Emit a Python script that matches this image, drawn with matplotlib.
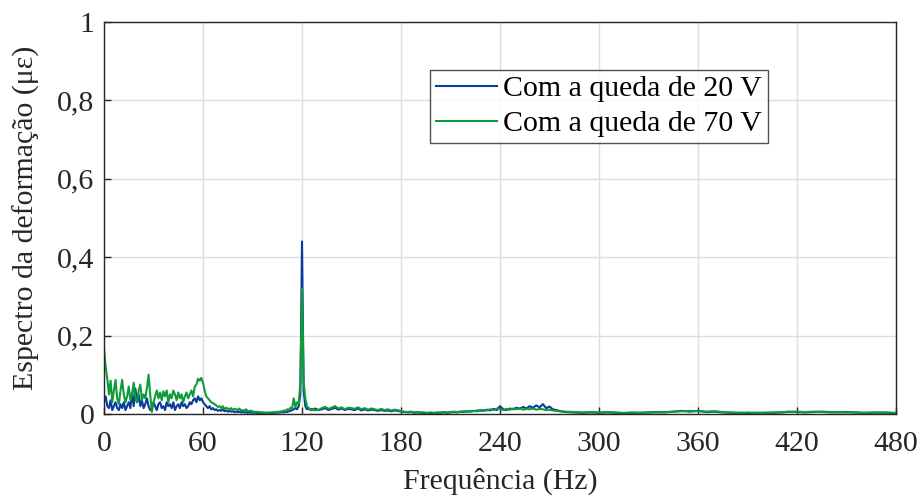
import numpy as np
import matplotlib.pyplot as plt

plt.rcParams['font.family'] = ['Liberation Serif', 'DejaVu Serif']

# frequency axis (Hz): 1 Hz steps up to 130, then 2 Hz to 280, then 5 Hz to 480
freq_low = np.arange(0, 131, 1)
freq_mid = np.arange(132, 281, 2)
freq_high = np.arange(285, 481, 5)

# strain spectrum with 20 V drop (micro-strain)
v20_low = [
    0.03, 0.045, 0.02, 0.015, 0.035, 0.01, 0.02, 0.03, 0.015, 0.01,
    0.025, 0.015, 0.03, 0.01, 0.02, 0.03, 0.015, 0.055, 0.02, 0.065,
    0.03, 0.05, 0.02, 0.035, 0.015, 0.025, 0.04, 0.02, 0.01, 0.015,
    0.03, 0.02, 0.01, 0.025, 0.03, 0.015, 0.02, 0.01, 0.03, 0.02,
    0.025, 0.015, 0.03, 0.01, 0.02, 0.025, 0.015, 0.03, 0.02, 0.025,
    0.015, 0.02, 0.03, 0.025, 0.035, 0.04, 0.03, 0.045, 0.035, 0.04,
    0.03, 0.025, 0.02, 0.015, 0.02, 0.012, 0.015, 0.01, 0.012, 0.008,
    0.01, 0.008, 0.012, 0.007, 0.009, 0.006, 0.008, 0.006, 0.007, 0.005,
    0.006, 0.005, 0.006, 0.004, 0.005, 0.004, 0.005, 0.003, 0.004, 0.004,
    0.003, 0.004, 0.003, 0.003, 0.002, 0.003, 0.003, 0.002, 0.003, 0.002,
    0.003, 0.003, 0.002, 0.003, 0.004, 0.003, 0.004, 0.004, 0.005, 0.004,
    0.006, 0.005, 0.007, 0.008, 0.01, 0.012, 0.015, 0.012, 0.02, 0.05,
    0.44, 0.06, 0.02, 0.012, 0.015, 0.01, 0.013, 0.011, 0.014, 0.012, 0.01,
]
v20_mid = [
    0.012, 0.015, 0.01, 0.013, 0.016, 0.011, 0.014, 0.01, 0.013, 0.012,
    0.01, 0.014, 0.009, 0.012, 0.009, 0.011, 0.01, 0.008, 0.01, 0.008,
    0.009, 0.007, 0.009, 0.008, 0.006, 0.005, 0.004, 0.005, 0.003, 0.004,
    0.003, 0.003, 0.002, 0.003, 0.002, 0.003, 0.003, 0.004, 0.003, 0.004,
    0.005, 0.004, 0.006, 0.005, 0.007, 0.006, 0.008, 0.007, 0.01, 0.008,
    0.011, 0.009, 0.013, 0.01, 0.02, 0.012, 0.01, 0.014, 0.012, 0.016,
    0.013, 0.018, 0.014, 0.02, 0.016, 0.022, 0.017, 0.025, 0.015, 0.019,
    0.012, 0.01, 0.008, 0.006, 0.005,
]
v20_high = [
    0.004, 0.003, 0.004, 0.003, 0.004, 0.003, 0.002, 0.003, 0.003, 0.004,
    0.005, 0.004, 0.006, 0.008, 0.006, 0.008, 0.005, 0.006, 0.004, 0.003,
    0.003, 0.002, 0.003, 0.003, 0.003, 0.004, 0.006, 0.005, 0.004, 0.005,
    0.006, 0.005, 0.004, 0.005, 0.004, 0.003, 0.003, 0.004, 0.003, 0.002,
]

# strain spectrum with 70 V drop (micro-strain)
v70_low = [
    0.168, 0.12, 0.09, 0.05, 0.085, 0.03, 0.06, 0.087, 0.04, 0.025,
    0.06, 0.087, 0.05, 0.03, 0.045, 0.07, 0.035, 0.05, 0.08, 0.04,
    0.03, 0.06, 0.075, 0.035, 0.05, 0.04, 0.065, 0.1, 0.05, 0.005,
    0.03, 0.045, 0.06, 0.04, 0.055, 0.035, 0.058, 0.045, 0.06, 0.03,
    0.05, 0.04, 0.06, 0.05, 0.035, 0.055, 0.04, 0.05, 0.03, 0.045,
    0.055, 0.04, 0.05, 0.06, 0.045, 0.07, 0.075, 0.09, 0.085, 0.092,
    0.08, 0.06, 0.045, 0.04, 0.035, 0.03, 0.028, 0.025, 0.022, 0.018,
    0.02, 0.015, 0.02, 0.012, 0.016, 0.014, 0.012, 0.015, 0.01, 0.013,
    0.012, 0.01, 0.014, 0.009, 0.01, 0.008, 0.012, 0.008, 0.007, 0.009,
    0.006, 0.006, 0.005, 0.006, 0.004, 0.005, 0.004, 0.004, 0.003, 0.004,
    0.003, 0.004, 0.004, 0.005, 0.004, 0.006, 0.005, 0.007, 0.006, 0.009,
    0.008, 0.012, 0.01, 0.016, 0.014, 0.04, 0.018, 0.03, 0.025, 0.08,
    0.32, 0.08, 0.04, 0.02, 0.015, 0.012, 0.01, 0.012, 0.009, 0.011, 0.01,
]
v70_mid = [
    0.015, 0.018, 0.013, 0.016, 0.02, 0.014, 0.017, 0.012, 0.016, 0.015,
    0.013, 0.017, 0.012, 0.015, 0.011, 0.014, 0.012, 0.01, 0.013, 0.01,
    0.012, 0.009, 0.011, 0.01, 0.007, 0.006, 0.005, 0.006, 0.004, 0.005,
    0.004, 0.004, 0.003, 0.004, 0.003, 0.004, 0.004, 0.005, 0.004, 0.005,
    0.006, 0.005, 0.006, 0.007, 0.006, 0.008, 0.007, 0.009, 0.008, 0.01,
    0.009, 0.012, 0.01, 0.014, 0.012, 0.01, 0.013, 0.011, 0.014, 0.012,
    0.015, 0.011, 0.013, 0.012, 0.014, 0.011, 0.013, 0.012, 0.01, 0.011,
    0.009, 0.008, 0.007, 0.006, 0.006,
]
v70_high = [
    0.005, 0.004, 0.005, 0.004, 0.005, 0.004, 0.003, 0.004, 0.003, 0.004,
    0.004, 0.005, 0.006, 0.007, 0.008, 0.007, 0.006, 0.007, 0.005, 0.004,
    0.003, 0.004, 0.003, 0.003, 0.004, 0.004, 0.005, 0.006, 0.005, 0.006,
    0.005, 0.004, 0.005, 0.004, 0.004, 0.003, 0.004, 0.003, 0.004, 0.003,
]

xticks = [0, 60, 120, 180, 240, 300, 360, 420, 480]
yticks = [0, 0.2, 0.4, 0.6, 0.8, 1.0]
ytick_labels = ['0', '0,2', '0,4', '0,6', '0,8', '1']

freq = np.concatenate([freq_low, freq_mid, freq_high])
v20 = np.concatenate([v20_low, v20_mid, v20_high])
v70 = np.concatenate([v70_low, v70_mid, v70_high])

fs = 21.5
ink = '#262626'

fig = plt.figure(figsize=(9.22, 4.97), dpi=100)
ax = fig.add_axes([0.1128, 0.167, 0.8590, 0.789])

ax.plot(freq, v20, color='#0a3a9e', lw=1.5, label='Com a queda de 20 V')
ax.plot(freq, v70, color='#0e9c3a', lw=1.5, label='Com a queda de 70 V')

ax.set_xlim(0, 480)
ax.set_ylim(0, 1)
ax.set_xticks(xticks)
ax.set_yticks(yticks)
ax.set_yticklabels(ytick_labels)
ax.grid(True, color='#dedede', lw=1.0)
ax.set_axisbelow(True)
ax.tick_params(direction='in', length=5, width=1, labelsize=fs,
               colors=ink, pad=7)
ax.tick_params(axis='x', pad=12)
for s in ax.spines.values():
    s.set_color(ink)
    s.set_linewidth(1.0)

ax.set_xlabel('Frequência (Hz)', fontsize=fs, color=ink, labelpad=8)
ax.set_ylabel('Espectro da deformação (με)', fontsize=fs, color=ink,
              labelpad=12)

leg = ax.legend(loc='upper left', bbox_to_anchor=(0.4116, 0.8776),
                fontsize=fs, frameon=True, fancybox=False,
                edgecolor=ink, handlelength=2.05, handletextpad=0.2,
                borderpad=0.2, labelspacing=0.3, borderaxespad=0,
                handleheight=0.6)
leg.get_frame().set_linewidth(1.0)

fig.savefig('out.png', dpi=100)
